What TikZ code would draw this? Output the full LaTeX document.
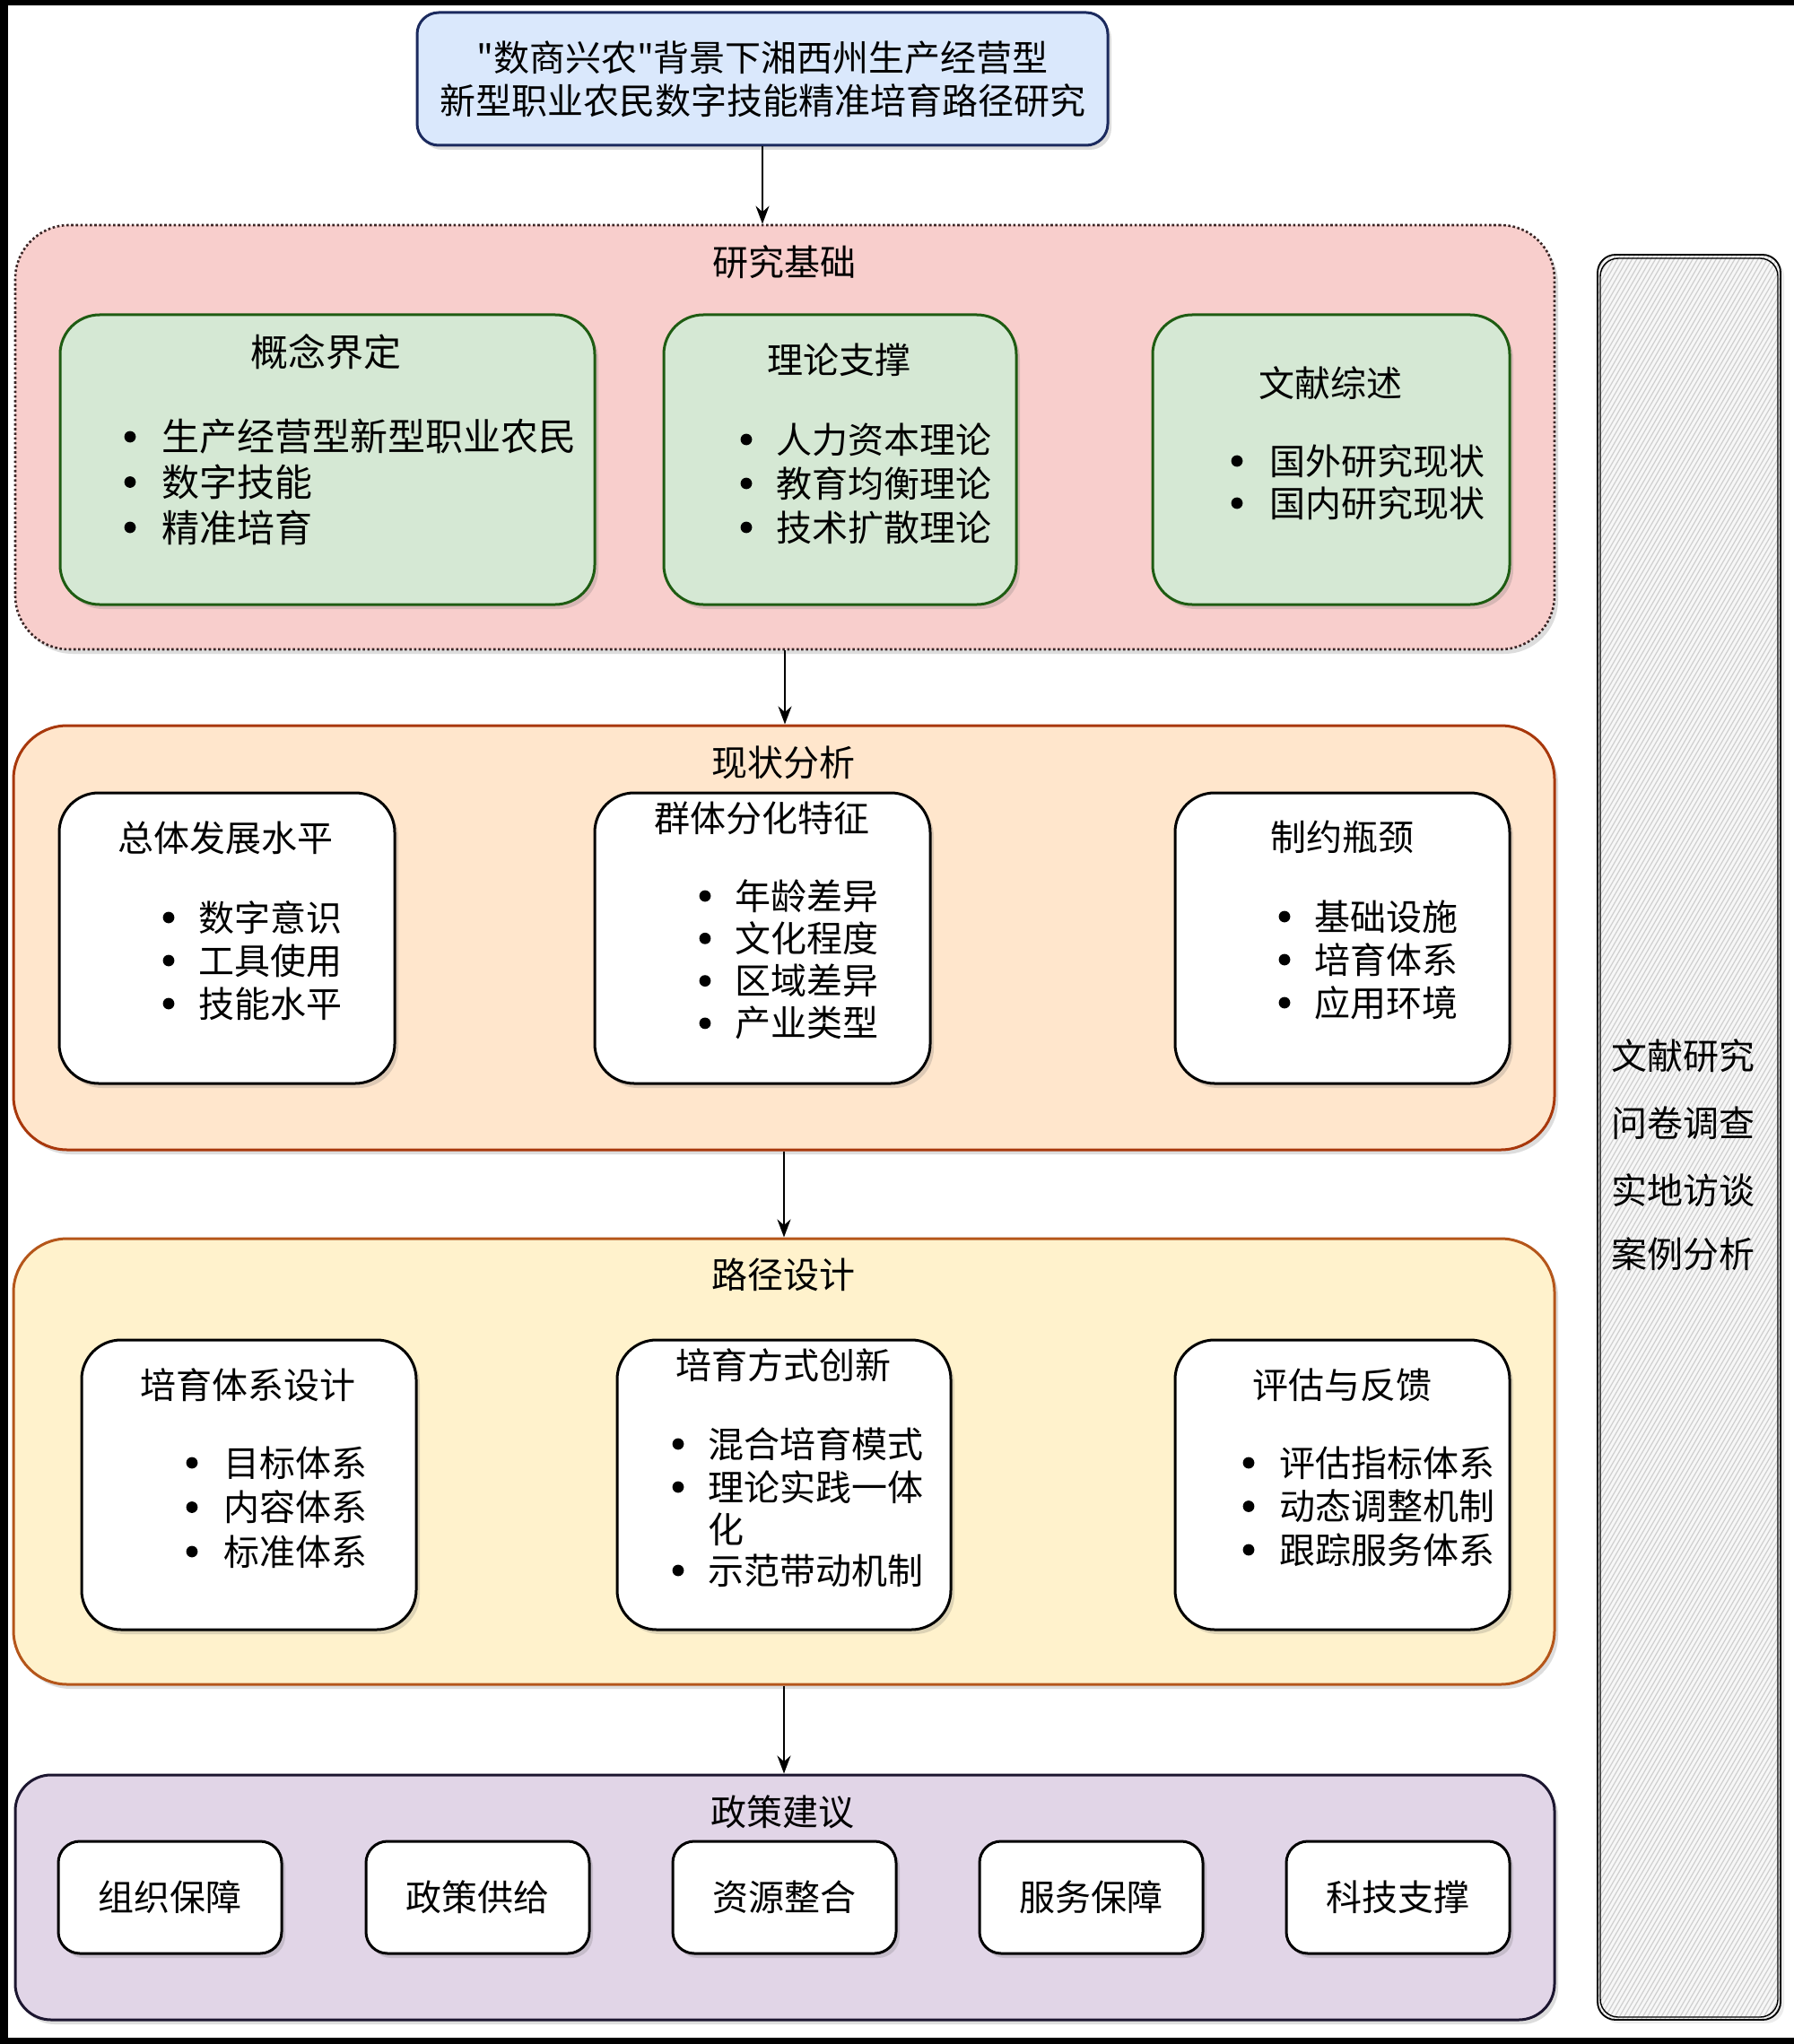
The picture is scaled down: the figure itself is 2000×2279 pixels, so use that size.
\documentclass[tikz,border=0pt]{standalone}
\usepackage{fontspec}
\newfontfamily\cjk{Noto Sans CJK SC}
\usetikzlibrary{shadows,arrows.meta}
\definecolor{ttlfill}{HTML}{DAE8FC}
\definecolor{ttldraw}{HTML}{1B2A5E}
\definecolor{s1fill}{HTML}{F8CECC}
\definecolor{s1draw}{HTML}{3A2525}
\definecolor{grfill}{HTML}{D5E8D4}
\definecolor{grdraw}{HTML}{1E5C12}
\definecolor{s2fill}{HTML}{FFE6CC}
\definecolor{s2draw}{HTML}{A8380C}
\definecolor{s3fill}{HTML}{FFF2CC}
\definecolor{s3draw}{HTML}{B5561A}
\definecolor{s4fill}{HTML}{E1D5E7}
\definecolor{s4draw}{HTML}{1C1630}
\definecolor{hatchc}{HTML}{CFCFCF}
\begin{document}
\begin{tikzpicture}[x=0.5pt,y=-0.5pt,
  shad/.style={drop shadow={shadow xshift=2pt,shadow yshift=-2.5pt,opacity=0.22,fill=black!60}},
  sec/.style={draw, line width=1.5pt, rounded corners=30pt, inner sep=0pt, shad},
  inbox/.style={draw, line width=1.5pt, rounded corners=22pt, inner sep=0pt, fill=white, shad},
  polbox/.style={draw, line width=1.5pt, rounded corners=12pt, inner sep=0pt, fill=white, shad,
     minimum width=124.5pt, minimum height=62.5pt, font=\cjk\fontsize{20}{24}\selectfont},
  txt/.style={font=\cjk\fontsize{20}{24}\selectfont, inner sep=0pt},
  bigtxt/.style={font=\cjk\fontsize{21}{25}\selectfont, inner sep=0pt},
  item/.style={txt, anchor=west},
  conn/.style={-{Stealth[length=10pt,width=7.5pt]}, line width=1pt}
]
\useasboundingbox (0,0) rectangle (2000,2279);
\fill[white] (0,0) rectangle (2000,2279);
% outer frame bars
\fill[black] (0,0) rectangle (2000,6);
\fill[black] (0,0) rectangle (9,2279);
\fill[black] (0,2272) rectangle (2000,2279);

% title
\node[draw=ttldraw, fill=ttlfill, line width=1.5pt, rounded corners=12pt, inner sep=0pt, shad,
      minimum width=385pt, minimum height=74pt] (title) at (850,88) {};
\node[txt, align=center] (titletext) at (850,88) {"数商兴农"背景下湘西州生产经营型\\新型职业农民数字技能精准培育路径研究};

% sections
\node[sec, fill=s1fill, draw=s1draw, dash pattern=on 1.3pt off 1.3pt, line width=1.3pt,
      minimum width=858pt, minimum height=236.5pt] (sec1) at (875,487.5) {};
\node[sec, fill=s2fill, draw=s2draw, minimum width=859pt, minimum height=236.5pt] (sec2) at (874,1045.5) {};
\node[sec, fill=s3fill, draw=s3draw, minimum width=859pt, minimum height=248.5pt] (sec3) at (874,1629.5) {};
\node[sec, fill=s4fill, draw=s4draw, rounded corners=20pt, minimum width=858pt, minimum height=136.5pt] (sec4) at (875,2115.5) {};

\node[txt] (sec1t) at (874,292) {研究基础};
\node[txt] (sec2t) at (873,850) {现状分析};
\node[txt] (sec3t) at (873,1421) {路径设计};
\node[txt] (sec4t) at (872,2020) {政策建议};

% connectors
\draw[conn] (title.south) -- (title.south |- sec1.north);
\draw[conn] (sec1.south -| 875,0) -- (sec2.north -| 875,0);
\draw[conn] (sec2.south -| 874,0) -- (sec3.north -| 874,0);
\draw[conn] (sec3.south -| 874,0) -- (sec4.north -| 874,0);

% section 1 boxes
\node[inbox, fill=grfill, draw=grdraw, minimum width=298pt, minimum height=161.5pt] (a1) at (365,512.5) {};
\node[inbox, fill=grfill, draw=grdraw, minimum width=196.5pt, minimum height=161.5pt] (a2) at (936.5,512.5) {};
\node[inbox, fill=grfill, draw=grdraw, minimum width=199pt, minimum height=161.5pt] (a3) at (1484,512.5) {};
\node[bigtxt] (a1t) at (363,392) {概念界定};
\node[txt] (a2t) at (935,401) {理论支撑};
\node[txt] (a3t) at (1483,427) {文献综述};
\foreach \t [count=\i] in {生产经营型新型职业农民,数字技能,精准培育}
  {\node[bigtxt, anchor=west] (a1i\i) at (180,{487+50.5*(\i-1)}) {\t};
   \fill ([xshift=-17.5pt]a1i\i.west) circle (3.2pt);}
\foreach \t [count=\i] in {人力资本理论,教育均衡理论,技术扩散理论}
  {\node[item] (a2i\i) at (865,{490+49*(\i-1)}) {\t};
   \fill ([xshift=-16.5pt]a2i\i.west) circle (3.2pt);}
\foreach \t [count=\i] in {国外研究现状,国内研究现状}
  {\node[item] (a3i\i) at (1415,{514+47*(\i-1)}) {\t};
   \fill ([xshift=-18pt]a3i\i.west) circle (3.2pt);}

% section 2 boxes
\node[inbox, minimum width=187pt, minimum height=162pt] (b1) at (253,1046) {};
\node[inbox, minimum width=187pt, minimum height=162pt] (b2) at (850,1046) {};
\node[inbox, minimum width=186.5pt, minimum height=162pt] (b3) at (1496.5,1046) {};
\node[txt] (b1t) at (251,934) {总体发展水平};
\node[txt] (b2t) at (849,912) {群体分化特征};
\node[txt] (b3t) at (1496,933) {制约瓶颈};
\foreach \t [count=\i] in {数字意识,工具使用,技能水平}
  {\node[item] (b1i\i) at (221,{1023+48*(\i-1)}) {\t};
   \fill ([xshift=-16.5pt]b1i\i.west) circle (3.2pt);}
\foreach \t [count=\i] in {年龄差异,文化程度,区域差异,产业类型}
  {\node[item] (b2i\i) at (819,{999+47.3*(\i-1)}) {\t};
   \fill ([xshift=-16.5pt]b2i\i.west) circle (3.2pt);}
\foreach \t [count=\i] in {基础设施,培育体系,应用环境}
  {\node[item] (b3i\i) at (1465,{1022+48*(\i-1)}) {\t};
   \fill ([xshift=-16.5pt]b3i\i.west) circle (3.2pt);}

% section 3 boxes
\node[inbox, minimum width=186.5pt, minimum height=161.5pt] (c1) at (277.5,1655.5) {};
\node[inbox, minimum width=186pt, minimum height=161.5pt] (c2) at (874,1655.5) {};
\node[inbox, minimum width=186.5pt, minimum height=161.5pt] (c3) at (1496.5,1655.5) {};
\node[txt] (c1t) at (276,1544) {培育体系设计};
\node[txt] (c2t) at (873,1522) {培育方式创新};
\node[txt] (c3t) at (1496,1544) {评估与反馈};
\foreach \t [count=\i] in {目标体系,内容体系,标准体系}
  {\node[item] (c1i\i) at (249,{1631+49.5*(\i-1)}) {\t};
   \fill ([xshift=-17.5pt]c1i\i.west) circle (3.2pt);}
\node[item] (c2i1) at (789,1610) {混合培育模式};
\node[item] (c2i2) at (789,1658) {理论实践一体};
\node[item] (c2i2b) at (789,1705) {化};
\node[item] (c2i3) at (789,1751) {示范带动机制};
\foreach \n in {c2i1,c2i2,c2i3} {\fill ([xshift=-16.5pt]\n.west) circle (3.2pt);}
\foreach \t [count=\i] in {评估指标体系,动态调整机制,跟踪服务体系}
  {\node[item] (c3i\i) at (1426,{1631+48.5*(\i-1)}) {\t};
   \fill ([xshift=-17pt]c3i\i.west) circle (3.2pt);}

% section 4 boxes
\node[polbox] (p1) at (189.5,2115.5) {组织保障};
\node[polbox] (p2) at (532.5,2115.5) {政策供给};
\node[polbox] (p3) at (874.5,2115.5) {资源整合};
\node[polbox] (p4) at (1216.5,2115.5) {服务保障};
\node[polbox] (p5) at (1558.5,2115.5) {科技支撑};

% right methods column
\node[rounded corners=10pt, fill=white, inner sep=0pt, minimum width=102pt, minimum height=984pt,
      drop shadow={shadow xshift=2pt,shadow yshift=-2pt,opacity=0.15,fill=black!50}] (meth) at (1883,1268) {};
\begin{scope}
  \clip[rounded corners=10pt] (1781,284) rectangle (1985,2252);
  \fill[black!3] (1781,284) rectangle (1985,2252);
  \foreach \k in {0,...,300}
    \draw[hatchc, line width=0.6pt] (1760,{284+9*\k}) -- ++(260,-450);
\end{scope}
\draw[line width=0.9pt, rounded corners=10pt] (1781,284) rectangle (1985,2252);
\draw[line width=0.7pt, rounded corners=10pt] (1784,288) rectangle (1982,2249);
\node[txt] (m1) at (1876,1177) {文献研究};
\node[txt] (m2) at (1876,1252) {问卷调查};
\node[txt] (m3) at (1876,1327) {实地访谈};
\node[txt] (m4) at (1876,1398) {案例分析};
\end{tikzpicture}
\end{document}
